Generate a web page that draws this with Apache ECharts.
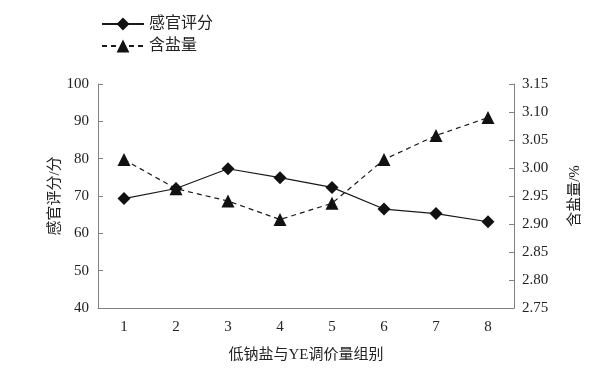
<!DOCTYPE html>
<html><head><meta charset="utf-8">
<script src="https://cdn.jsdelivr.net/npm/echarts@6/dist/echarts.min.js"></script>
<style>html,body{margin:0;padding:0;background:#fff}#c{width:608px;height:368px}</style>
</head><body><div id="c"></div>
<script>
var categories = ['1','2','3','4','5','6','7','8'];
var sensoryScore = [69.3, 72.0, 77.3, 74.9, 72.3, 66.5, 65.3, 63.1];
var saltContent = [3.015, 2.963, 2.941, 2.908, 2.937, 3.015, 3.058, 3.090];
var seriesNames = ['感官评分', '含盐量'];

var serif = '"Liberation Serif","Times New Roman","Noto Sans CJK SC",serif';
var axisColor = '#808080';
var chart = echarts.init(document.getElementById('c'));
chart.setOption({
  animation: false,
  backgroundColor: '#fff',
  grid: {left: 98, right: 94, top: 84, bottom: 59, containLabel: false},
  legend: {
    orient: 'vertical', left: 96, top: 11, itemGap: 6,
    itemWidth: 42, itemHeight: 16,
    textStyle: {fontFamily: serif, fontSize: 16, color: '#222'},
    data: seriesNames
  },
  xAxis: {
    type: 'category', data: categories, boundaryGap: true,
    name: '低钠盐与YE调价量组别', nameLocation: 'middle', nameGap: 40,
    nameTextStyle: {fontFamily: serif, fontSize: 15, color: '#222'},
    axisLine: {lineStyle: {color: axisColor}},
    axisTick: {show: false},
    axisLabel: {fontFamily: serif, fontSize: 15, color: '#222', margin: 12},
    splitLine: {show: false}
  },
  yAxis: [{
    type: 'value', min: 40, max: 100, interval: 10, position: 'left',
    name: '感官评分/分', nameLocation: 'middle', nameGap: 35, nameMoveOverlap: false,
    nameTextStyle: {fontFamily: serif, fontSize: 15, color: '#222'},
    axisLine: {show: true, lineStyle: {color: axisColor}},
    axisTick: {show: true, inside: true, length: 5, lineStyle: {color: axisColor}},
    axisLabel: {fontFamily: serif, fontSize: 15, color: '#222', margin: 9},
    splitLine: {show: false}
  }, {
    type: 'value', min: 2.75, max: 3.15, interval: 0.05, position: 'right',
    name: '含盐量/%', nameLocation: 'middle', nameGap: 54, nameRotate: 90,
    nameTextStyle: {fontFamily: serif, fontSize: 15, color: '#222'},
    axisLine: {show: true, lineStyle: {color: axisColor}},
    axisTick: {show: true, inside: true, length: 5, lineStyle: {color: axisColor}},
    axisLabel: {fontFamily: serif, fontSize: 15, color: '#222', margin: 8,
      formatter: function (v) { return v.toFixed(2); }},
    splitLine: {show: false}
  }],
  series: [{
    name: seriesNames[0], type: 'line', yAxisIndex: 0, data: sensoryScore,
    symbol: 'diamond', symbolSize: 13,
    lineStyle: {color: '#1a1a1a', width: 1.2},
    itemStyle: {color: '#111'}
  }, {
    name: seriesNames[1], type: 'line', yAxisIndex: 1, data: saltContent,
    symbol: 'triangle', symbolSize: 13,
    lineStyle: {color: '#1a1a1a', width: 1.2, type: [5, 4]},
    itemStyle: {color: '#111'}
  }]
});
</script></body></html>
